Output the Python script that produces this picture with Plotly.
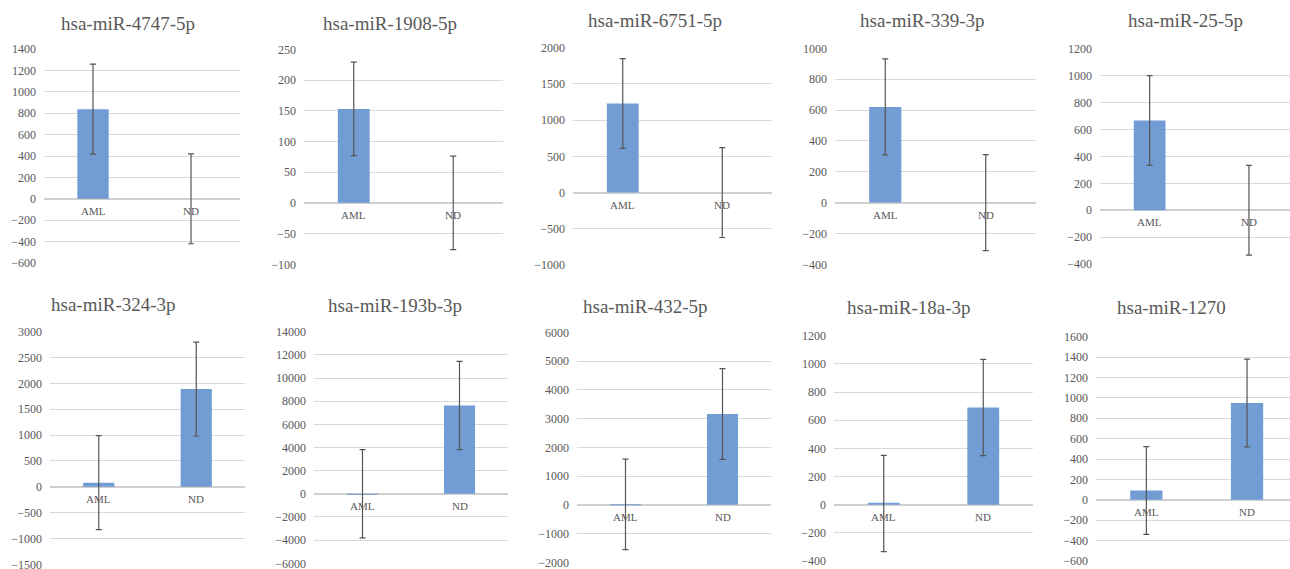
import plotly.graph_objects as go

W, H = 1290, 569

categories = ["AML", "ND"]

titles = ["hsa-miR-4747-5p", "hsa-miR-1908-5p", "hsa-miR-6751-5p", "hsa-miR-339-3p", "hsa-miR-25-5p",
          "hsa-miR-324-3p", "hsa-miR-193b-3p", "hsa-miR-432-5p", "hsa-miR-18a-3p", "hsa-miR-1270"]

aml_values = [838, 153, 1230, 620, 668, 80, 10, 15, 8, 92]
nd_values = [0, 0, 0, 0, 0, 1890, 7630, 3160, 690, 950]
error_values = [420, 76, 620, 311, 334, 908, 3815, 1577, 342, 430]

y_ranges = [(-600, 1400), (-100, 250), (-1000, 2000), (-400, 1000), (-400, 1200),
            (-1500, 3000), (-6000, 14000), (-2000, 6000), (-400, 1200), (-600, 1600)]
y_dticks = [200, 50, 500, 200, 200, 500, 2000, 1000, 200, 200]

# layout geometry (pixels): plot left, plot right, top, bottom
px_x = [(44, 240), (304, 503), (573, 772), (835, 1036), (1100, 1298.6),
        (50, 245), (314, 508), (577, 771), (834, 1033), (1096, 1297.4)]
px_y = [(49, 263), (49.3, 264.3), (47.7, 265), (48.3, 264.3), (49, 264),
        (331.7, 564.3), (331.7, 563.3), (332.3, 562.3), (335.7, 561), (336.7, 561)]
title_pos = [(128, 23), (390, 23), (655, 21), (922, 21), (1185, 21),
             (113, 304), (395, 305), (645, 306), (908, 307), (1171, 307)]

BAR = "#719cd4"
GRID = "#d9d9d9"
TXT = "#595959"

fig = go.Figure()
annotations = []
for i in range(10):
    ax = "" if i == 0 else str(i + 1)
    xa, ya = "x" + ax, "y" + ax
    fig.add_trace(go.Bar(
        x=categories, y=[aml_values[i], nd_values[i]],
        marker=dict(color=BAR, line=dict(width=0)),
        width=0.32,
        error_y=dict(type="data", array=[error_values[i], error_values[i]],
                     color="#555555", thickness=1.2, width=3),
        xaxis=xa, yaxis=ya, showlegend=False, hoverinfo="skip",
    ))
    x0, x1 = px_x[i]
    y0, y1 = px_y[i]
    xr1 = min(x1, W)
    frac = (xr1 - x0) / (x1 - x0)
    xdom = [x0 / W, xr1 / W]
    ydom = [1 - y1 / H, 1 - y0 / H]
    fig.layout["xaxis" + ax] = dict(
        domain=xdom, range=[-0.5, -0.5 + 2 * frac], showticklabels=False,
        showgrid=False, zeroline=False, showline=False, anchor=ya, fixedrange=True,
        automargin=False,
    )
    fig.layout["yaxis" + ax] = dict(
        domain=ydom, range=list(y_ranges[i]), dtick=y_dticks[i], tick0=0,
        tickformat="d", automargin=False, fixedrange=True, ticklabeloverflow="allow",
        showgrid=True, gridcolor=GRID, gridwidth=1,
        zeroline=True, zerolinecolor="#cfcfcf", zerolinewidth=1.6,
        showline=False, ticks="", ticklabelstandoff=7, anchor=xa,
        tickfont=dict(family="Liberation Serif", size=12, color=TXT),
    )
    for c in categories:
        annotations.append(dict(
            x=c, y=0, xref=xa, yref=ya, text=c, showarrow=False,
            yanchor="top", yshift=-4,
            font=dict(family="Liberation Serif", size=11, color=TXT),
        ))
    tx, ty = title_pos[i]
    annotations.append(dict(
        x=tx / W, y=1 - ty / H, xref="paper", yref="paper", text=titles[i],
        showarrow=False, xanchor="center", yanchor="middle",
        font=dict(family="Liberation Serif", size=19, color=TXT),
    ))

fig.update_layout(
    width=W, height=H, margin=dict(l=0, r=0, t=0, b=0, autoexpand=False),
    paper_bgcolor="white", plot_bgcolor="white",
    annotations=annotations, bargap=0.68,
)
fig.write_html("out.html", config={"displayModeBar": False},
               post_script="document.body.style.margin='0';document.body.style.overflow='hidden';")
